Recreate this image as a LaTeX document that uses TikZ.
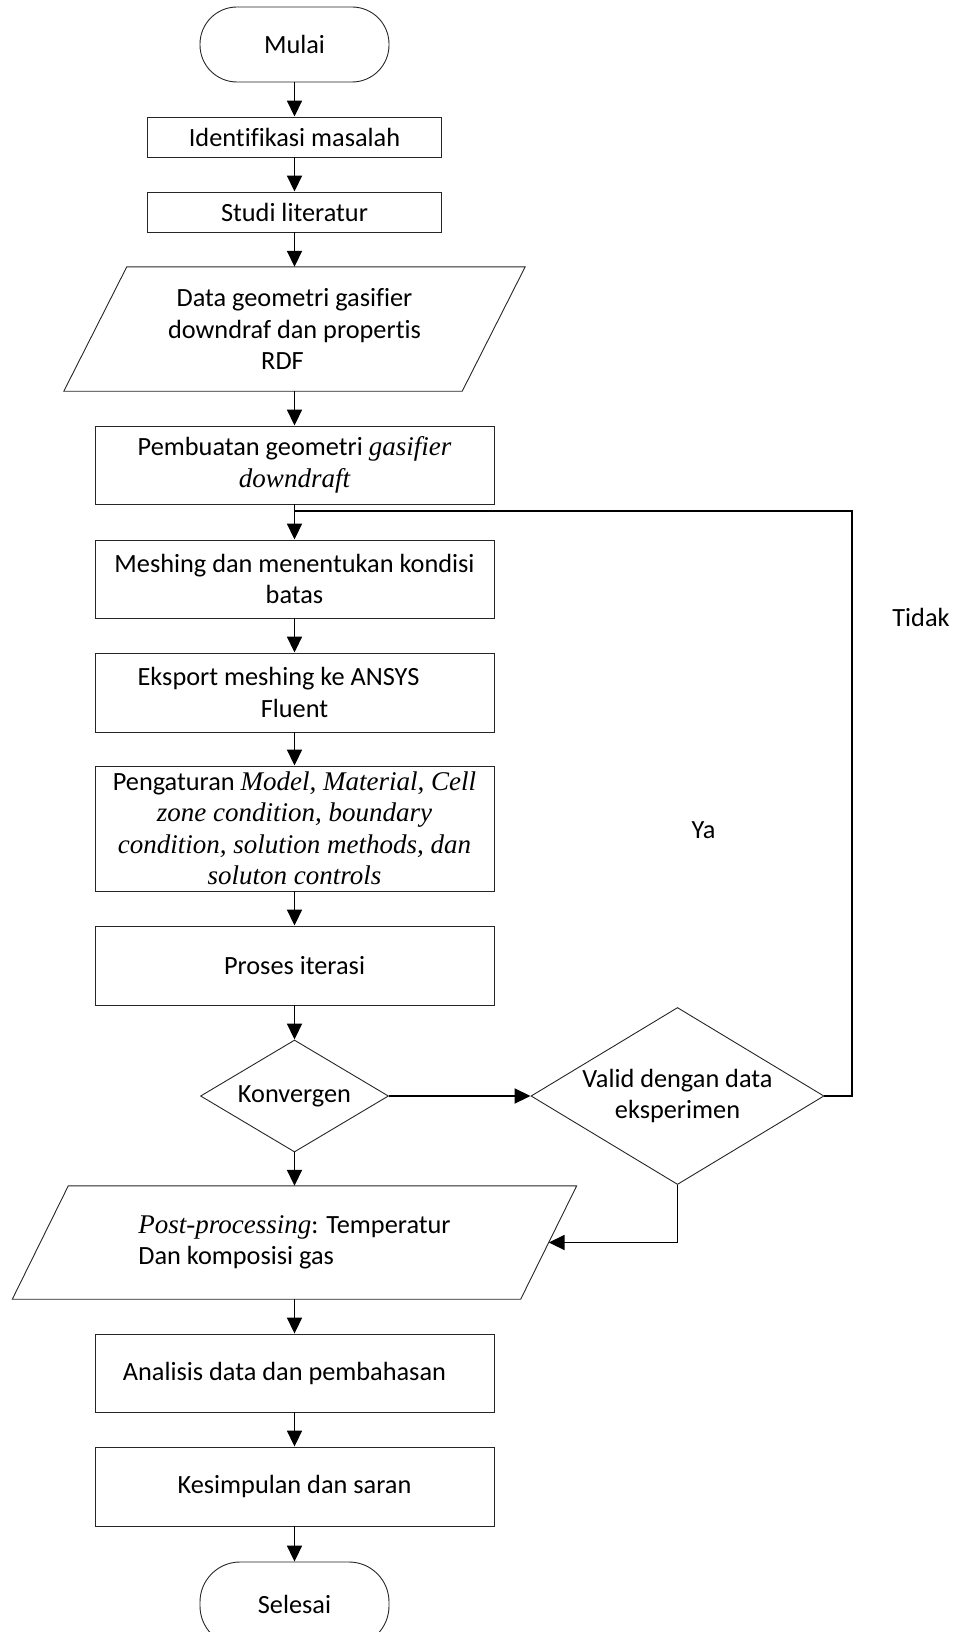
\documentclass[tikz,border=0pt]{standalone}
\usepackage{fontspec}
\setmainfont{Carlito}[Ligatures=CommonOff]
\newfontfamily\tnr{Liberation Serif}[Ligatures=CommonOff]
\usetikzlibrary{arrows.meta,shapes.geometric}
% italic serif runs inside the sans text
\newcommand{\tit}[1]{{\tnr\itshape\fontsize{27pt}{31.5pt}\selectfont #1}}

\tikzset{
  txt/.style={font=\fontsize{26.3pt}{31.5pt}\selectfont, align=center, inner sep=0pt},
  outline/.style={draw=black!85, line width=0.9pt},
  box/.style={txt, outline, rectangle, minimum width=399pt, minimum height=78pt},
  smallbox/.style={box, minimum width=294pt, minimum height=40pt},
  term/.style={txt, outline, rectangle, rounded corners=37pt, minimum width=189pt, minimum height=75pt},
  decision/.style={txt, outline, diamond},
  ghost/.style={txt, rectangle},
  wire/.style={line width=1.8pt, black},
  conn/.style={wire, -{Triangle[length=16pt,width=15pt]}},
  lbl/.style={txt}
}

\begin{document}
\begin{tikzpicture}[x=1pt,y=-1pt]
\useasboundingbox (0,0) rectangle (959,1632);

% main column
\node[term] (mulai) at (294.5,44.5) {Mulai};
\node[smallbox] (ident) at (294.5,137) {Identifikasi masalah};
\node[smallbox] (studi) at (294.5,212) {Studi literatur};

% input: geometry and RDF data
\node[ghost, minimum width=398pt, minimum height=124pt] (data) at (294.5,329)
  {Data geometri gasifier\\downdraf dan propertis\\RDF\hspace*{24pt}};
\draw[outline] ([xshift=31.5pt]data.north west) -- ([xshift=31.5pt]data.north east)
  -- ([xshift=-31.5pt]data.south east) -- ([xshift=-31.5pt]data.south west) -- cycle;

\node[box] (pemb) at (294.5,465) {Pembuatan geometri \tit{gasifier}\\\tit{downdraft}};
\node[box] (mesh) at (294.5,579) {Meshing dan menentukan kondisi\\batas};
\node[box, minimum height=79pt] (eks) at (294.5,692.5) {Eksport meshing ke ANSYS\hspace*{32pt}\\Fluent};
\node[box, minimum height=125pt] (peng) at (294.5,828.5)
  {Pengaturan \tit{Model, Material, Cell}\\
   \tit{zone condition, boundary}\hspace*{11pt}\\
   \tit{condition, solution methods, dan}\\
   \tit{soluton controls}};
\node[box, minimum height=79pt] (proses) at (294.5,965.5) {Proses iterasi};

% decisions
\node[decision, aspect=1.68, minimum width=188pt, minimum height=112pt] (konv) at (294.5,1096) {Konvergen};
\node[decision, aspect=1.655, minimum width=293pt, minimum height=177pt] (valid) at (677.5,1096)
  {Valid dengan data\\eksperimen};

% output: post-processing
\node[ghost, minimum width=508pt, minimum height=113pt, align=left] (post) at (294.5,1242.5)
  {\tit{Post-processing}: Temperatur\\Dan komposisi gas};
\draw[outline] ([xshift=28pt]post.north west) -- ([xshift=28pt]post.north east)
  -- ([xshift=-28pt]post.south east) -- ([xshift=-28pt]post.south west) -- cycle;

\node[box] (anal) at (294.5,1373) {Analisis data dan pembahasan\hspace*{20pt}};
\node[box, minimum height=79pt] (kesim) at (294.5,1486.5) {Kesimpulan dan saran};
\node[term, minimum height=84pt, rounded corners=40pt] (selesai) at (294.5,1604) {Selesai};

% labels
\node[lbl] (tidak) at (921,617) {Tidak};
\node[lbl] (ya) at (703.5,830) {Ya};

% connectors
\draw[conn] (mulai.south) -- (ident.north);
\draw[conn] (ident.south) -- (studi.north);
\draw[conn] (studi.south) -- (data.north);
\draw[conn] (data.south) -- (pemb.north);
\draw[conn] (pemb.south) -- (mesh.north);
\draw[conn] (mesh.south) -- (eks.north);
\draw[conn] (eks.south) -- (peng.north);
\draw[conn] (peng.south) -- (proses.north);
\draw[conn] (proses.south) -- (konv.north);
\draw[conn] (konv.east) -- (valid.west);
\draw[conn] (konv.south) -- (post.north);
\draw[conn] (valid.south) |- (post.east);
\draw[conn] (post.south) -- (anal.north);
\draw[conn] (anal.south) -- (kesim.north);
\draw[conn] (kesim.south) -- (selesai.north);

% loop back when the result is not valid
\coordinate (join) at (294.5,511);
\coordinate (loopcorner) at (852,511);
\draw[wire] (valid.east) -| (loopcorner) -- (join);
\end{tikzpicture}
\end{document}
